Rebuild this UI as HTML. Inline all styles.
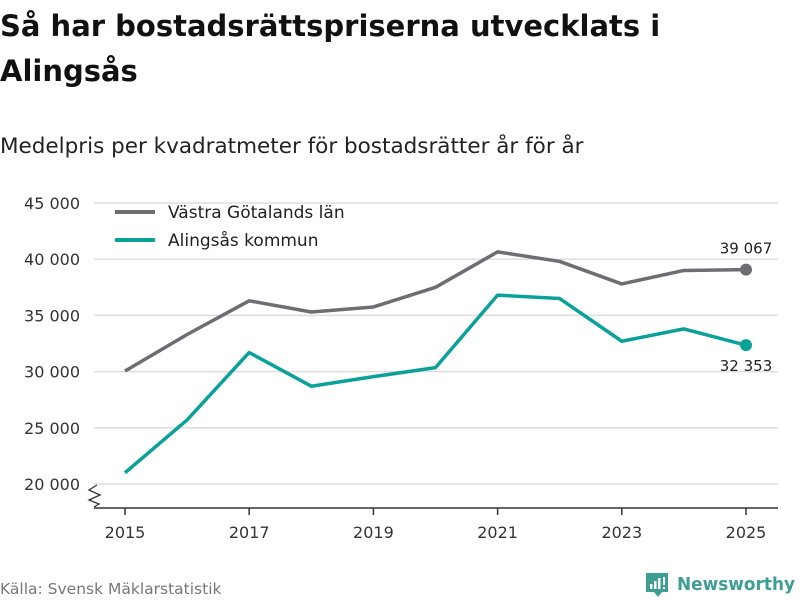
<!DOCTYPE html>
<html><head><meta charset="utf-8"><style>
body{margin:0;background:#fff;font-family:"DejaVu Sans","Liberation Sans",sans-serif;}
</style></head><body>
<svg width="800" height="600" xmlns="http://www.w3.org/2000/svg" style="display:block">
<text x="0" y="36" font-size="29" font-weight="bold" fill="#111">Så har bostadsrättspriserna utvecklats i</text>
<text x="0" y="81" font-size="29" font-weight="bold" fill="#111">Alingsås</text>
<text x="0" y="153" font-size="21.5" fill="#222">Medelpris per kvadratmeter för bostadsrätter år för år</text>
<g id="grid"></g>
<g id="series"></g>
<path d="M94 508H778" stroke="#333" stroke-width="1.5"/>
<path d="M97 485 L89 490 L100 495 L89 500 L99 504 L94 507" fill="none" stroke="#333" stroke-width="1.3"/>
<g>
<line x1="115" y1="212" x2="155" y2="212" stroke="#6e6d73" stroke-width="4"/>
<text x="168" y="218" font-size="17" fill="#222">Västra Götalands län</text>
<line x1="115" y1="240" x2="155" y2="240" stroke="#0aa19a" stroke-width="4"/>
<text x="168" y="246" font-size="17" fill="#222">Alingsås kommun</text>
</g>
<text x="0" y="594" font-size="15.5" fill="#777">Källa: Svensk Mäklarstatistik</text>
<g>
<path d="M646 573h22v19h-6l-4 5l-4-5h-8z" fill="#3e9e94"/>
<rect x="650" y="584" width="2.5" height="5" fill="#fff"/><rect x="654" y="581" width="2.5" height="8" fill="#fff"/><rect x="658" y="578" width="2.5" height="11" fill="#fff"/><rect x="663" y="577" width="2" height="8" fill="#fff"/><rect x="663" y="587" width="2" height="2" fill="#fff"/>
<text x="677" y="590" font-size="18" font-weight="bold" fill="#3e9e94" textLength="118" lengthAdjust="spacingAndGlyphs">Newsworthy</text>
</g>
</svg>
<script>
const years=[2015,2016,2017,2018,2019,2020,2021,2022,2023,2024,2025];
const vgl=[30050,33300,36300,35300,35750,37500,40650,39800,37800,39000,39067];
const alingsas=[21000,25700,31700,28700,29550,30350,36800,36500,32700,33800,32353];
const yTicks=[20000,25000,30000,35000,40000,45000];
const xTicks=[2015,2017,2019,2021,2023,2025];
const NS="http://www.w3.org/2000/svg";
const x=v=>125+(v-2015)*62.1;
const y=v=>484-(v-20000)/5000*56.2;
const fmt=v=>String(v).replace(/\B(?=(\d{3})+(?!\d))/g,"\u00a0");
const grid=document.getElementById('grid'),ser=document.getElementById('series');
function mk(tag,attrs,parent){const e=document.createElementNS(NS,tag);for(const k in attrs)e.setAttribute(k,attrs[k]);parent.appendChild(e);return e;}
yTicks.forEach(t=>{
 const l=mk('line',{x1:94,x2:778,y1:y(t),y2:y(t),stroke:'#ddd','stroke-width':1.5},grid);
 
 
 const tx=mk('text',{x:80,y:y(t)+6,'font-size':16,fill:'#333','text-anchor':'end'},grid);
 tx.textContent=fmt(t);
 
 
});
xTicks.forEach(t=>{
 const l=mk('line',{x1:x(t),x2:x(t),y1:508,y2:515,stroke:'#333','stroke-width':1.5},grid);
 
 
 const tx=mk('text',{x:x(t),y:538,'font-size':16,fill:'#333','text-anchor':'middle'},grid);
 tx.textContent=t;
 
 
});
function line(vals,color,name,labelDy){
 const p=mk('polyline',{points:vals.map((v,i)=>x(years[i])+','+y(v)).join(' '),fill:'none',stroke:color,'stroke-width':3.5,'stroke-linejoin':'round'},ser);
 
 
 const n=vals.length-1;
 const c=mk('circle',{cx:x(years[n]),cy:y(vals[n]),r:6,fill:color},ser);
 
 
 const t=mk('text',{x:x(years[n]),y:y(vals[n])+labelDy,'font-size':15,fill:'#222','text-anchor':'middle'},ser);
 t.textContent=fmt(vals[n]);
 
 
}
line(vgl,'#6e6d73','vgl',-16);
line(alingsas,'#0aa19a','alingsas',26);
</script>
</body></html>
